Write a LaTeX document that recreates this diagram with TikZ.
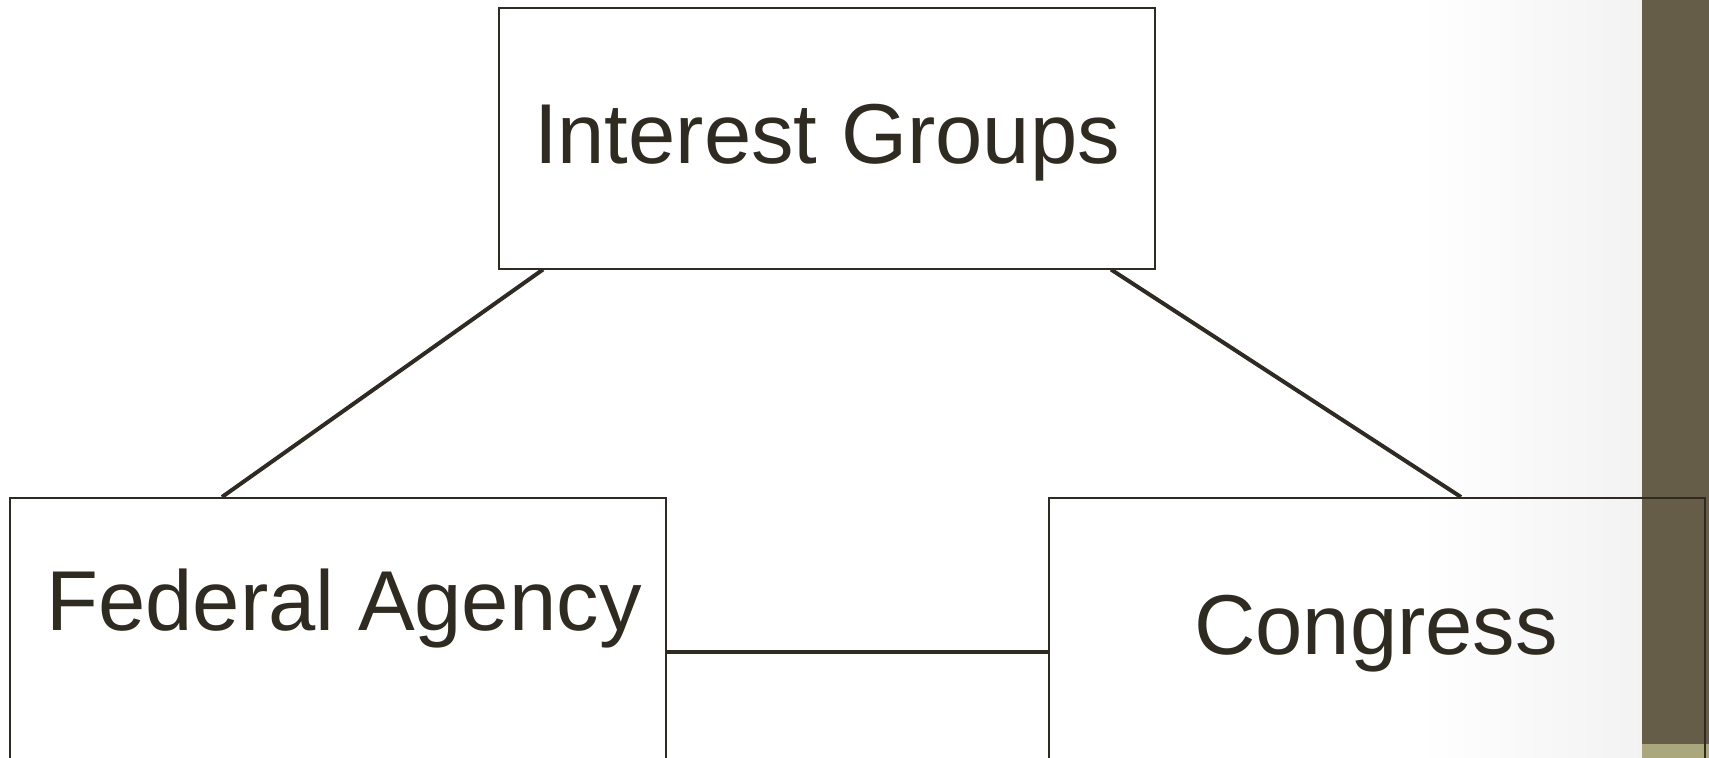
\documentclass[tikz,border=0pt]{standalone}
\usepackage{fontspec}
\setmainfont{Liberation Sans}
\usepackage{xcolor}
\definecolor{ink}{RGB}{47,43,32}
\definecolor{barolive}{RGB}{101,93,72}
\definecolor{barsand}{RGB}{171,167,125}
\tikzset{
  box/.style={draw=ink, line width=2pt, rectangle, inner sep=0pt},
  link/.style={draw=ink, line width=4pt},
  lbl/.style={text=ink, inner sep=0pt, anchor=base, font=\fontsize{85}{100}\selectfont}
}
\begin{document}
\begin{tikzpicture}[x=1pt,y=1pt,yscale=-1,xscale=1]
\useasboundingbox (0,0) rectangle (1709,758);
\clip (0,0) rectangle (1709,758);
%Shape: background
\fill[white] (0,0) rectangle (1709,758);
\shade[left color=white, right color=black!5] (1420,0) rectangle (1642,758);
\fill[barolive] (1642,0) rectangle (1709,744);
\fill[barsand] (1642,744) rectangle (1709,758);
%Shape: Rectangle
\node[box, minimum width=656pt, minimum height=261pt] (groups) at (827,138) {};
%Shape: Rectangle
\node[box, minimum width=656pt, minimum height=308pt] (agency) at (338,652) {};
%Shape: Rectangle
\node[box, minimum width=656pt, minimum height=308pt] (congress) at (1377,652) {};
%Straight Lines
\draw[link] ([xshift=45pt]groups.south west) -- ([xshift=213pt]agency.north west);
%Straight Lines
\draw[link] ([xshift=-45pt]groups.south east) -- ([xshift=-245pt]congress.north east);
%Straight Lines
\draw[link] (agency.east) -- (congress.west);
% Text Node
\node[lbl] (groupstxt) at (827,163) {Interest Groups};
% Text Node
\node[lbl] (agencytxt) at (344,630) {Federal Agency};
% Text Node
\node[lbl] (congresstxt) at (1376,654) {Congress};
\end{tikzpicture}
\end{document}
